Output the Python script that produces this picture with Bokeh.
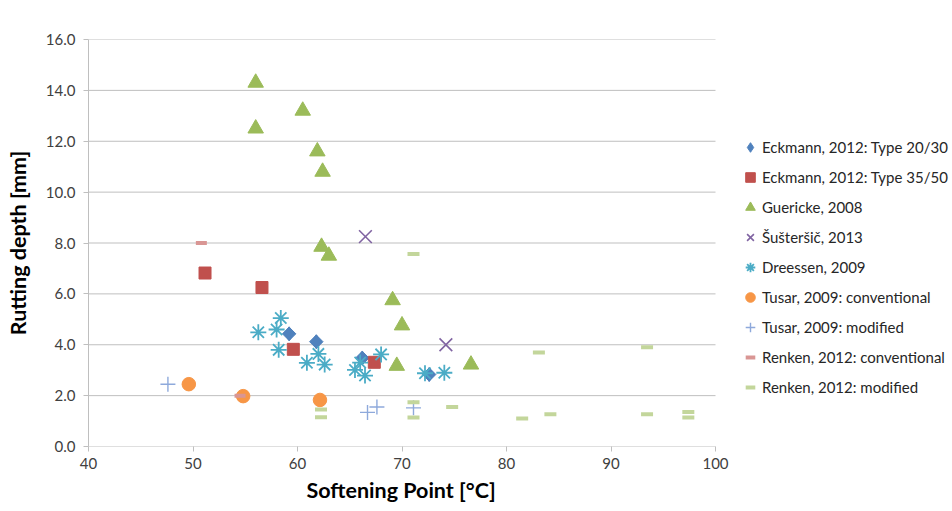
import math
from bokeh.plotting import figure
from bokeh.models import FixedTicker, PrintfTickFormatter, Legend, LegendItem, Title
from bokeh.embed import file_html
from bokeh.resources import INLINE

# ---- data ----
eck2030_x = [59.2, 61.8, 66.2, 72.6]
eck2030_y = [4.43, 4.12, 3.48, 2.83]
eck3550_x = [51.15, 56.6, 59.6, 67.35]
eck3550_y = [6.82, 6.25, 3.82, 3.31]
gue_x = [56.0, 60.5, 56.0, 61.9, 62.4, 62.3, 63.0, 69.1, 70.0, 69.5, 76.6]
gue_y = [14.3, 13.2, 12.5, 11.6, 10.8, 7.85, 7.5, 5.75, 4.76, 3.17, 3.22]
sus_x = [66.5, 74.2]
sus_y = [8.25, 4.0]
dre_x = [56.25, 58.4, 58.0, 58.2, 60.9, 62.0, 62.6, 65.5, 66.0, 66.46, 68.0, 72.2, 74.05]
dre_y = [4.49, 5.05, 4.6, 3.8, 3.29, 3.64, 3.22, 3.01, 3.3, 2.79, 3.62, 2.88, 2.9]
tusc_x = [49.6, 54.8, 62.15]
tusc_y = [2.45, 1.98, 1.83]
tusm_x = [47.6, 66.7, 67.6, 71.1]
tusm_y = [2.45, 1.34, 1.55, 1.52]
renc_x = [50.8, 54.5]
renc_y = [8.0, 2.0]
renm_x = [62.25, 62.25, 71.1, 71.1, 71.1, 74.8, 81.5, 83.1, 84.2, 93.45, 93.45, 97.4, 97.4]
renm_y = [1.45, 1.15, 7.57, 1.74, 1.14, 1.55, 1.1, 3.7, 1.27, 3.9, 1.27, 1.36, 1.14]

x_ticks = [40, 50, 60, 70, 80, 90, 100]
y_ticks = [0, 2, 4, 6, 8, 10, 12, 14, 16]
labels = ["Eckmann, 2012: Type 20/30", "Eckmann, 2012: Type 35/50", "Guericke, 2008",
          "Šušteršič, 2013", "Dreessen, 2009", "Tusar, 2009: conventional",
          "Tusar, 2009: modified", "Renken, 2012: conventional", "Renken, 2012: modified"]
x_title = "Softening Point [°C]"
y_title = "Rutting depth [mm]"

FONT = "Lato"
W, H = 952, 511
LEFT, TOP, BOTTOM = 88, 39, 65
PLOT_W = 627  # pixels between x=40 and x=100
frame_w = W - LEFT
x_end = x_ticks[0] + (x_ticks[-1] - x_ticks[0]) * frame_w / PLOT_W

p = figure(width=W, height=H, output_backend="svg", toolbar_location=None,
           x_range=(x_ticks[0], x_end), y_range=(y_ticks[0], y_ticks[-1]),
           min_border_left=LEFT, min_border_right=0, min_border_top=TOP,
           min_border_bottom=BOTTOM)
p.outline_line_color = None
p.xgrid.grid_line_color = None
p.ygrid.grid_line_color = None

# horizontal gridlines limited to the data span
p.segment(x0=[x_ticks[0]] * len(y_ticks), x1=[x_ticks[-1]] * len(y_ticks),
          y0=y_ticks, y1=y_ticks, line_color="#bfbfbf", line_width=1, level="underlay")

p.xaxis.ticker = FixedTicker(ticks=x_ticks)
p.yaxis.ticker = FixedTicker(ticks=y_ticks)
p.yaxis.formatter = PrintfTickFormatter(format="%.1f")
for ax in (p.xaxis, p.yaxis):
    ax.axis_line_color = "#bfbfbf"
    ax.major_tick_line_color = "#bfbfbf"
    ax.major_tick_out = 5
    ax.major_tick_in = 0
    ax.minor_tick_line_color = None
    ax.major_label_text_font = FONT
    ax.major_label_text_font_size = "15px"
    ax.major_label_text_color = "#404040"
    ax.axis_label_text_font = FONT
    ax.axis_label_text_font_style = "bold"
    ax.axis_label_text_font_size = "21.5px"
    ax.axis_label_text_color = "#000000"
p.xaxis.axis_line_color = None
p.xaxis.major_label_standoff = 6
p.yaxis.major_label_standoff = 8
p.yaxis.axis_label = y_title
p.yaxis.axis_label_standoff = 12

# x title centred under the 40..100 span
xt = Title(text=x_title, align="left", offset=218, standoff=6,
           text_font=FONT, text_font_style="bold", text_font_size="21.5px",
           text_color="#000000")
p.add_layout(xt, "below")

# legend-only diamond drawn beneath the rotated squares
r1_leg = p.scatter(eck2030_x, eck2030_y, marker="diamond", size=14,
                   fill_color="#4F81BD", line_color="#4F81BD")
r1 = p.scatter(eck2030_x, eck2030_y, marker="square", angle=math.pi / 4, size=9.5,
               fill_color="#4F81BD", line_color="#4F81BD")
r2 = p.scatter(eck3550_x, eck3550_y, marker="square", size=12,
               fill_color="#C0504D", line_color="#C0504D")
r3 = p.scatter(gue_x, gue_y, marker="triangle", size=15.5,
               fill_color="#9BBB59", line_color="#9BBB59")
r4 = p.scatter(sus_x, sus_y, marker="x", size=18, line_color="#8064A2", line_width=1.6)
r5 = p.scatter(dre_x, dre_y, marker="asterisk", size=16, line_color="#4BACC6", line_width=1.8)
r6 = p.scatter(tusc_x, tusc_y, marker="circle", size=13.5,
               fill_color="#F79646", line_color="#F79646")
r7 = p.scatter(tusm_x, tusm_y, marker="cross", size=15, line_color="#8EA9DB", line_width=1.4)
r8 = p.scatter(renc_x, renc_y, marker="dash", size=11, line_color="#D99694", line_width=4)
r9 = p.scatter(renm_x, renm_y, marker="dash", size=12, line_color="#C3D69B", line_width=4)

rs = [r1_leg, r2, r3, r4, r5, r6, r7, r8, r9]
legend = Legend(items=[LegendItem(label=l, renderers=[r]) for l, r in zip(labels, rs)],
                location=(650, 47))
legend.glyph_width = 24
legend.glyph_height = 24
legend.label_height = 24
legend.spacing = 6
legend.padding = 0
legend.margin = 0
legend.label_standoff = 0
legend.border_line_color = None
legend.background_fill_alpha = 0
legend.label_text_font = FONT
legend.label_text_font_size = "15px"
legend.label_text_color = "#262626"
p.add_layout(legend, "center")

open("out.html", "w").write(file_html(p, INLINE))
